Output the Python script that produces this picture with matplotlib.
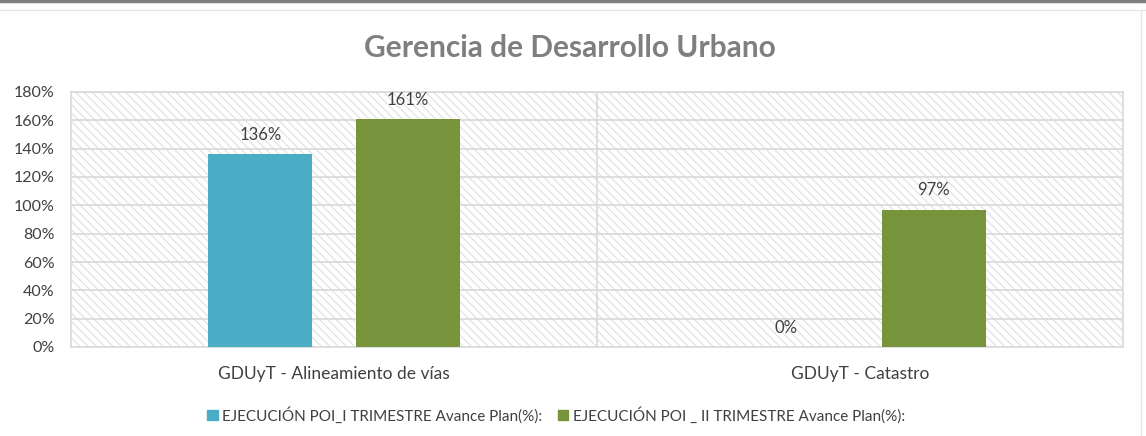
import matplotlib.pyplot as plt
from matplotlib.lines import Line2D
from matplotlib.patches import Patch
import numpy as np

categories = ['GDUyT - Alineamiento de vías', 'GDUyT - Catastro']
series_names = ['EJECUCIÓN POI_I TRIMESTRE Avance Plan(%):',
                'EJECUCIÓN POI _ II TRIMESTRE Avance Plan(%):']
trim1 = [136, 0]
trim2 = [161, 97]
colors = ['#4bacc6', '#77933c']
yticks = [0, 20, 40, 60, 80, 100, 120, 140, 160, 180]

plt.rcParams['font.family'] = ['Lato', 'DejaVu Sans']
plt.rcParams['hatch.color'] = '#e0e0e0'
plt.rcParams['hatch.linewidth'] = 0.8

fig = plt.figure(figsize=(11.46, 4.36), dpi=100)
ax = fig.add_axes([71 / 1146, 1 - 347 / 436, (1123 - 71) / 1146, (347 - 92) / 436])

# hatched background like the excel pattern fill
ax.patch.set_facecolor('white')
ax.patch.set_hatch('\\\\\\\\')
ax.patch.set_edgecolor('#e0e0e0')

x = np.arange(len(categories))
w = 0.198
off = 0.14
ax.bar(x - off, trim1, w, color=colors[0], zorder=3)
ax.bar(x + off, trim2, w, color=colors[1], zorder=3)

for i in range(len(categories)):
    ax.text(x[i] - off, trim1[i] + 8, f'{trim1[i]}%', ha='center', va='bottom',
            fontsize=12, color='#404040', zorder=4)
    ax.text(x[i] + off, trim2[i] + 8, f'{trim2[i]}%', ha='center', va='bottom',
            fontsize=12, color='#404040', zorder=4)

ax.set_xlim(-0.5, 1.5)
ax.set_ylim(0, 180)
ax.set_yticks(yticks)
ax.set_yticklabels([f'{v}%' for v in yticks])
ax.set_xticks(x)
ax.set_xticklabels(categories)
ax.tick_params(axis='both', length=0, labelcolor='#404040')
ax.tick_params(axis='x', pad=14, labelsize=12.5)
ax.tick_params(axis='y', pad=12, labelsize=11.5)
ax.grid(axis='y', color='#d9d9d9', lw=1.2, zorder=1)
ax.axvline(0.5, color='#d9d9d9', lw=1.2, zorder=1)
for s in ax.spines.values():
    s.set_color('#d9d9d9')
    s.set_linewidth(1.2)

fig.text(570 / 1146, 1 - 48 / 436, 'Gerencia de Desarrollo Urbano', ha='center', va='center',
         fontsize=21.5, fontweight='bold', color='#7f7f7f')

handles = [Patch(color=colors[0]), Patch(color=colors[1])]
fig.legend(handles, series_names, loc='center', bbox_to_anchor=(556 / 1146, 1 - 415 / 436),
           ncol=2, frameon=False, fontsize=11, handlelength=0.7, handleheight=0.7,
           handletextpad=0.3, columnspacing=1.0, labelcolor='#404040')

# frame lines of the screenshot
fig.add_artist(Line2D([0, 1], [1 - 1 / 436, 1 - 1 / 436], color='#7f7f7f', lw=2.5))
fig.add_artist(Line2D([0, 1], [1 - 10 / 436, 1 - 10 / 436], color='#e6e6e6', lw=1))
fig.add_artist(Line2D([1141 / 1146, 1141 / 1146], [0, 1 - 10 / 436], color='#e6e6e6', lw=1))

fig.savefig('out.png', dpi=100)
